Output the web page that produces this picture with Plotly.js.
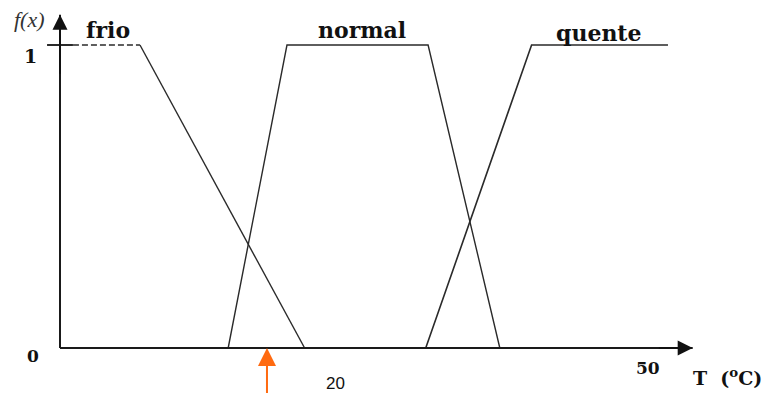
<!DOCTYPE html>
<html>
<head>
<meta charset="utf-8">
<script src="https://cdn.plot.ly/plotly-3.0.1.min.js"></script>
<style>html,body{margin:0;padding:0;background:#fff}#chart{width:770px;height:393px}</style>
</head>
<body>
<div id="chart"></div>
<script>
// Membership functions (x in °C, y = membership degree)
var frioX = [1.1, 6.8, 20.8];
var frioY = [1, 1, 0];
var normalX = [14.3, 19.3, 31.3, 37.4];
var normalY = [0, 1, 1, 0];
var quenteX = [31.1, 40.1, 51.7];
var quenteY = [0, 1, 1];
var tickOneX = [-1.1, 1.1];
var tickOneY = [1, 1];
var xAxisX = [0, 53.8];
var xAxisY = [0, 0];
var yAxisX = [0, 0];
var yAxisY = [0, 1.1];
var markerX = 17.6;          // highlighted temperature (labelled "20")
var markerLabel = "20";
var setNames = ["frio", "normal", "quente"];
var setLabelX = [4.1, 25.7, 45.8];
var setLabelY = [1.05, 1.05, 1.04];

var lineCol = '#2a2a2a';
var traces = [
  {x: frioX.slice(0, 2), y: frioY.slice(0, 2), mode: 'lines', line: {color: lineCol, width: 1.6, dash: '6px,3px'}},
  {x: frioX.slice(1), y: frioY.slice(1), mode: 'lines', line: {color: lineCol, width: 1.4}},
  {x: normalX, y: normalY, mode: 'lines', line: {color: lineCol, width: 1.4}},
  {x: quenteX, y: quenteY, mode: 'lines', line: {color: lineCol, width: 1.6}},
  {x: tickOneX, y: tickOneY, mode: 'lines', line: {color: lineCol, width: 2}},
  {x: xAxisX, y: xAxisY, mode: 'lines', line: {color: '#1a1a1a', width: 2}},
  {x: yAxisX, y: yAxisY, mode: 'lines', line: {color: '#1a1a1a', width: 2}}
];
traces.forEach(function (t) { t.hoverinfo = 'skip'; t.showlegend = false; });

var serifB = {family: 'DejaVu Serif', size: 22, color: '#111'};
var ann = [];
setNames.forEach(function (n, i) {
  ann.push({x: setLabelX[i], y: setLabelY[i], xref: 'x', yref: 'y', text: '<b>' + n + '</b>', showarrow: false, font: serifB});
});
ann.push({x: -2.55, y: 0.965, xref: 'x', yref: 'y', text: '<b>1</b>', showarrow: false, font: {family: 'DejaVu Serif', size: 19, color: '#111'}});
ann.push({x: -2.3, y: -0.025, xref: 'x', yref: 'y', text: '<b>0</b>', showarrow: false, font: {family: 'DejaVu Serif', size: 17, color: '#111'}});
ann.push({x: -2.6, y: 1.085, xref: 'x', yref: 'y', text: '<i>f(x)</i>', showarrow: false, font: {family: 'Liberation Serif', size: 22, color: '#333'}});
ann.push({x: 50, y: -0.066, xref: 'x', yref: 'y', text: '<b>50</b>', showarrow: false, font: {family: 'DejaVu Serif', size: 17, color: '#111'}});
ann.push({x: 56.8, y: -0.097, xref: 'x', yref: 'y', text: '<b>T  (<sup>o</sup>C)</b>', showarrow: false, font: {family: 'DejaVu Serif', size: 19, color: '#111'}});
ann.push({x: markerX + 5.8, y: -0.116, xref: 'x', yref: 'y', text: markerLabel, showarrow: false, font: {family: 'Liberation Sans', size: 17, color: '#111'}});
// axis arrow heads
ann.push({x: xAxisX[1], y: 0, ax: xAxisX[1] - 3, ay: 0, xref: 'x', yref: 'y', axref: 'x', ayref: 'y', text: '', showarrow: true, arrowhead: 2, arrowsize: 1.5, arrowwidth: 2, arrowcolor: '#111'});
ann.push({x: 0, y: yAxisY[1], ax: 0, ay: yAxisY[1] - 0.2, xref: 'x', yref: 'y', axref: 'x', ayref: 'y', text: '', showarrow: true, arrowhead: 2, arrowsize: 1.5, arrowwidth: 2, arrowcolor: '#111'});
// orange marker arrow
ann.push({x: markerX, y: 0, ax: markerX, ay: -0.16, xref: 'x', yref: 'y', axref: 'x', ayref: 'y', text: '', showarrow: true, arrowhead: 2, arrowsize: 1.8, arrowwidth: 2, arrowcolor: '#ff6a10'});

var layout = {
  width: 770, height: 393,
  margin: {l: 0, r: 0, t: 0, b: 0},
  paper_bgcolor: '#fff', plot_bgcolor: '#fff',
  showlegend: false,
  xaxis: {range: [-5.102, 60.374], visible: false, fixedrange: true},
  yaxis: {range: [-0.1485, 1.1485], visible: false, fixedrange: true},
  annotations: ann
};
Plotly.newPlot('chart', traces, layout, {staticPlot: true, displayModeBar: false});
</script>
</body>
</html>
